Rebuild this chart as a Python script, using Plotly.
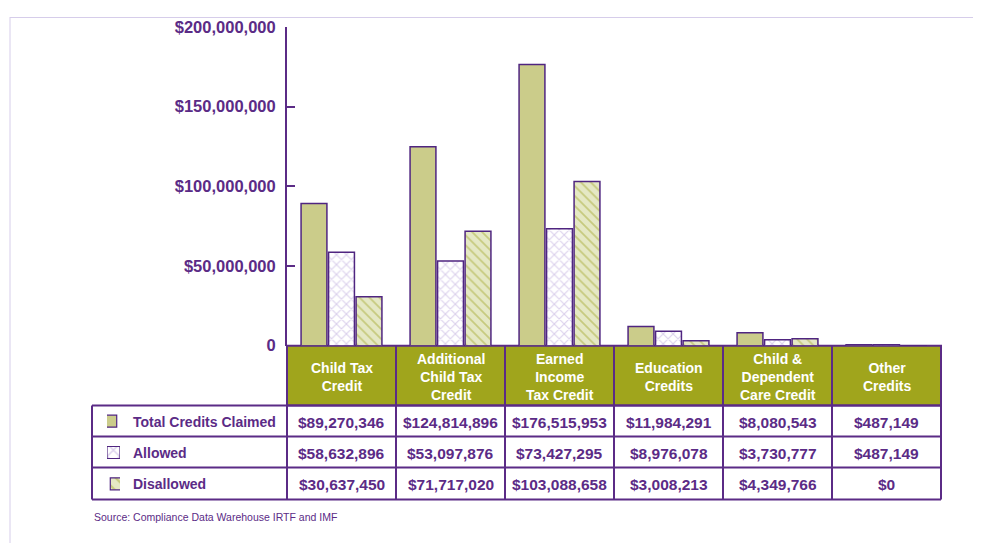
import plotly.graph_objects as go

W, H = 965, 544
OX, OY, SY = 8, 16, 0.968   # page offset / vertical scale observed in the capture

categories = ["Child Tax<br>Credit", "Additional<br>Child Tax<br>Credit", "Earned<br>Income<br>Tax Credit",
              "Education<br>Credits", "Child &<br>Dependent<br>Care Credit", "Other<br>Credits"]
cat_keys = ["CTC", "ACTC", "EITC", "EDU", "CDCC", "OTH"]
total_claimed = [89270346, 124814896, 176515953, 11984291, 8080543, 487149]
allowed = [58632896, 53097876, 73427295, 8976078, 3730777, 487149]
disallowed = [30637450, 71717020, 103088658, 3008213, 4349766, 0]
series_names = ["Total Credits Claimed", "Allowed", "Disallowed"]
y_tickvals = [0, 50e6, 100e6, 150e6, 200e6]
y_ticktext = ["0", "$50,000,000", "$100,000,000", "$150,000,000", "$200,000,000"]
source_text = "Source: Compliance Data Warehouse IRTF and IMF"

PURPLE = "#5B2B86"
OUTLINE = "#4F2580"
OLIVE_BAND = "#A0A51C"
TOTAL_FILL = "#CBCC8A"
ALLOW_FG = "#B7A2D9"
DIS_BG = "#E5E8C4"
DIS_FG = "#A8AC38"
FRAME = "#D6CDEA"

FONT = "Liberation Sans, Arial, sans-serif"

def X(px):
    return (px - OX) / W

def Y(py):
    return 1 - ((py - OY) / SY) / H

# pixel layout (window pixels)
PL, PR = 287, 941
PT, P0 = 26, 345
BAND_T, BAND_B = 345, 405
ROWS = [405, 436, 467, 499]
TAB_L = 92
colw = (PR - PL) / len(categories)

styles = [
    dict(color=TOTAL_FILL),
    dict(color="white", pattern=dict(shape="x", fgcolor=ALLOW_FG, bgcolor="white", size=7, solidity=0.3)),
    dict(color=DIS_BG, pattern=dict(shape="\\", fgcolor=DIS_FG, bgcolor=DIS_BG, size=7, solidity=0.25)),
]

fig = go.Figure()
for name, vals, st in zip(series_names, [total_claimed, allowed, disallowed], styles):
    fig.add_trace(go.Bar(
        x=cat_keys, y=vals, name=name,
        marker=dict(**st, line=dict(color=OUTLINE, width=1.5)),
        hoverinfo="y+name", showlegend=False,
    ))

# legend icons as tiny bars on their own axes
icon_styles = [
    dict(color=TOTAL_FILL),
    dict(color="white", pattern=dict(shape="x", fgcolor=ALLOW_FG, bgcolor="white", size=9, solidity=0.3)),
    dict(color=DIS_BG, pattern=dict(shape="\\", fgcolor=DIS_FG, bgcolor=DIS_BG, size=9, solidity=0.25)),
]
icon_h = 12 / ((ROWS[-1] - ROWS[0]) / 3)
for i, (name, st) in enumerate(zip(series_names, icon_styles)):
    fig.add_trace(go.Bar(
        x=[0.5], y=[icon_h], base=[(2 - i) + (1 - icon_h) / 2], width=[1],
        marker=dict(**st, line=dict(color=OUTLINE, width=1.2)),
        xaxis="x2", yaxis="y2", showlegend=False, hoverinfo="skip",
    ))

fig.update_layout(
    width=W, height=H,
    margin=dict(l=0, r=0, t=0, b=0),
    paper_bgcolor="white", plot_bgcolor="rgba(0,0,0,0)",
    barmode="group", bargap=0.243, bargroupgap=0.06,
    xaxis=dict(domain=[X(PL), X(PR)], type="category", range=[-0.5, 5.5],
               showticklabels=False, showline=False, showgrid=False, zeroline=False, ticks=""),
    yaxis=dict(domain=[Y(P0), Y(PT)], range=[0, 200e6], tickvals=y_tickvals, ticktext=y_ticktext,
               showline=True, linecolor=PURPLE, linewidth=2, ticks="inside", ticklen=8,
               tickcolor=PURPLE, tickwidth=2, showgrid=False, zeroline=False,
               tickfont=dict(family=FONT, size=16.5, color=PURPLE, weight="bold"),
               ticklabelstandoff=6),
    xaxis2=dict(domain=[X(107), X(120)], range=[0, 1], visible=False, fixedrange=True),
    yaxis2=dict(domain=[Y(ROWS[-1]), Y(ROWS[0])], range=[0, 3], visible=False, fixedrange=True),
)

shapes = []
# outer frame
shapes.append(dict(type="line", xref="paper", yref="paper", x0=X(10), x1=X(10), y0=1, y1=0,
                   line=dict(color=FRAME, width=1)))
shapes.append(dict(type="line", xref="paper", yref="paper", x0=X(10), x1=1, y0=0.999, y1=0.999,
                   line=dict(color=FRAME, width=1)))
# olive band
shapes.append(dict(type="rect", xref="paper", yref="paper", x0=X(PL), x1=X(PR), y0=Y(BAND_B), y1=Y(BAND_T),
                   fillcolor=OLIVE_BAND, line=dict(color=PURPLE, width=2), layer="below"))
# table horizontal lines
for r in ROWS:
    shapes.append(dict(type="line", xref="paper", yref="paper", x0=X(TAB_L), x1=X(PR), y0=Y(r), y1=Y(r),
                       line=dict(color=PURPLE, width=2)))
# table left edge
shapes.append(dict(type="line", xref="paper", yref="paper", x0=X(TAB_L), x1=X(TAB_L), y0=Y(ROWS[0]), y1=Y(ROWS[-1]),
                   line=dict(color=PURPLE, width=2)))
# column dividers
for k in range(len(categories) + 1):
    xp = PL + k * colw
    shapes.append(dict(type="line", xref="paper", yref="paper", x0=X(xp), x1=X(xp), y0=Y(BAND_T), y1=Y(ROWS[-1]),
                       line=dict(color=PURPLE, width=2)))

annotations = []
for cat, key in zip(categories, cat_keys):
    annotations.append(dict(x=key, xref="x", y=Y((BAND_T + BAND_B) / 2 + 1), yref="paper",
                            text=cat, showarrow=False, xanchor="center", yanchor="middle",
                            font=dict(family=FONT, size=14, color="white", weight="bold")))
for i, (name, vals) in enumerate(zip(series_names, [total_claimed, allowed, disallowed])):
    yc = Y((ROWS[i] + ROWS[i + 1]) / 2 + 1)
    annotations.append(dict(x=X(131), xref="paper", y=yc, yref="paper", text=name, showarrow=False,
                            xanchor="left", yanchor="middle",
                            font=dict(family=FONT, size=14, color=PURPLE, weight="bold")))
    for key, v in zip(cat_keys, vals):
        annotations.append(dict(x=key, xref="x", y=yc, yref="paper", text=f"${v:,.0f}", showarrow=False,
                                xanchor="center", yanchor="middle",
                                font=dict(family=FONT, size=15.5, color=PURPLE, weight="bold")))
annotations.append(dict(x=X(92), xref="paper", y=Y(517), yref="paper", text=source_text, showarrow=False,
                        xanchor="left", yanchor="middle",
                        font=dict(family=FONT, size=10.5, color=PURPLE)))

fig.update_layout(shapes=shapes, annotations=annotations)
fig.write_html("out.html")
